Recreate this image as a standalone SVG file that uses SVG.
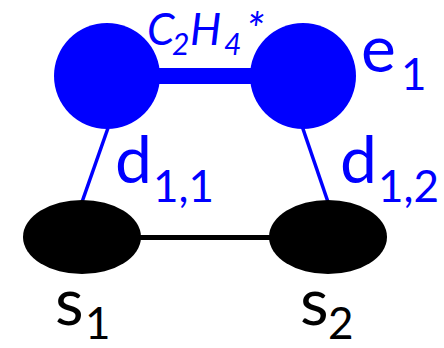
<svg xmlns="http://www.w3.org/2000/svg" width="444" height="348" viewBox="0 0 444 348">
<style>
.blue{fill:#0000ff}
.blk{fill:#000000}
.t{font-family:Lato,"Open Sans","Liberation Sans",sans-serif}
.big{font-size:66px}
.sub{font-size:44px}
.it{font-style:italic}
</style>
<rect width="444" height="348" fill="#ffffff"/>
<g id="connectors">
<line x1="107" y1="76" x2="303" y2="76" stroke="#0000ff" stroke-width="16"/>
<line x1="108" y1="128" x2="82" y2="202" stroke="#0000ff" stroke-width="3.5"/>
<line x1="302" y1="126" x2="328" y2="202" stroke="#0000ff" stroke-width="3.5"/>
<line x1="82" y1="237.5" x2="328" y2="237.5" stroke="#000000" stroke-width="5"/>
</g>
<g id="e-left"><circle cx="107" cy="76" r="53" class="blue"/></g>
<g id="e-right"><circle cx="303" cy="76" r="53" class="blue"/></g>
<g id="s1"><ellipse cx="82" cy="237" rx="59" ry="37" class="blk"/></g>
<g id="s2"><ellipse cx="328" cy="237" rx="59" ry="37" class="blk"/></g>
<g id="labels">
<text class="t it blue" font-size="44"><tspan x="147" y="45">C</tspan><tspan x="172" y="55" font-size="30">2</tspan><tspan x="190" y="45">H</tspan><tspan x="224" y="55" font-size="30">4</tspan><tspan x="246" y="46" font-size="46">*</tspan></text>
<text class="t blue"><tspan class="big" x="361" y="72" font-size="70">e</tspan><tspan class="sub" x="401" y="90">1</tspan></text>
<text class="t blue"><tspan class="big" x="115" y="183">d</tspan><tspan class="sub" x="153" y="202">1,1</tspan></text>
<text class="t blue"><tspan class="big" x="340" y="183">d</tspan><tspan class="sub" x="378" y="202">1,2</tspan></text>
<text class="t blk"><tspan class="big" x="55" y="325">s</tspan><tspan class="sub" x="85" y="339">1</tspan></text>
<text class="t blk"><tspan class="big" x="300" y="325">s</tspan><tspan class="sub" x="328" y="339">2</tspan></text>
</g>
</svg>
